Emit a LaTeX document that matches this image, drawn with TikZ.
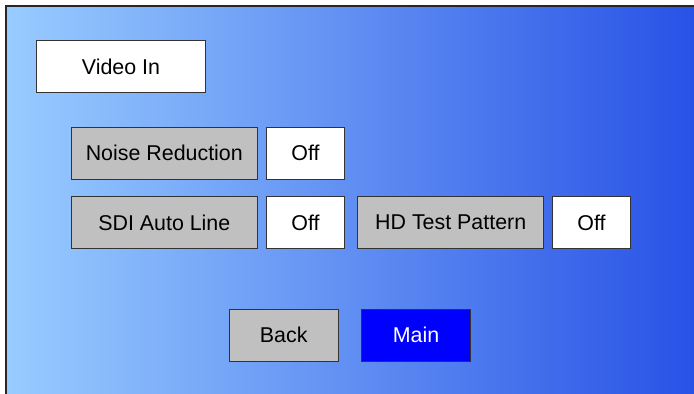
\documentclass[tikz,border=0pt]{standalone}
\usepackage{fontspec}
\setmainfont{Liberation Sans}
\usepackage{tikz}
\usetikzlibrary{math}
\definecolor{PanelLight}{RGB}{153,204,255}
\definecolor{PanelDark}{RGB}{40,82,230}
\definecolor{MenuGray}{RGB}{192,192,192}
\definecolor{MenuBlue}{RGB}{0,0,255}
\tikzset{%
  px/.style={x=0.5pt,y=-0.5pt},
  menu box/.style={draw=black!80, line width=0.5pt, inner sep=0pt, minimum height=26pt,
    font=\fontsize{10.7}{12}\selectfont},
  menu label/.style={menu box, fill=MenuGray, minimum width=93pt},
  menu value/.style={menu box, fill=white, minimum width=39pt},
  menu button/.style={menu box, fill=MenuGray, minimum width=54.5pt}
}

\begin{document}
\begin{tikzpicture}[px]
    \tikzmath{
      \w=694; \h=394;
      \edge=6; % frame offset
      \rowA=153.3; \rowB=222.5; % menu rows
      \colA=164.3; \colB=305.5;
    }
    \useasboundingbox (0,0) rectangle (\w,\h);
    % Background:
    \shade[left color=PanelLight, right color=PanelDark] (\edge,\edge) rectangle (\w,\h);
    \draw[line width=0.75pt, color=black!85] (\edge,\h) -- (\edge,\edge) -- (\w,\edge);
    % Title:
    \node[menu box, fill=white, minimum width=84.5pt] (videoin) at (121,66.5) {Video In};
    % Menu rows:
    \node[menu label] (noise) at (\colA,\rowA) {Noise Reduction};
    \node[menu value] (noiseval) at (\colB,\rowA) {Off};
    \node[menu label] (sdi) at (\colA,\rowB) {SDI Auto Line};
    \node[menu value] (sdival) at (\colB,\rowB) {Off};
    \node[menu label] (hdtest) at (450.7,\rowB) {HD Test Pattern};
    \node[menu value] (hdtestval) at (591.5,\rowB) {Off};
    % Buttons:
    \node[menu button] (back) at (283.7,335.2) {Back};
    \node[menu button, fill=MenuBlue, text=white] (main) at (416,335.2) {Main};
\end{tikzpicture}
\end{document}
